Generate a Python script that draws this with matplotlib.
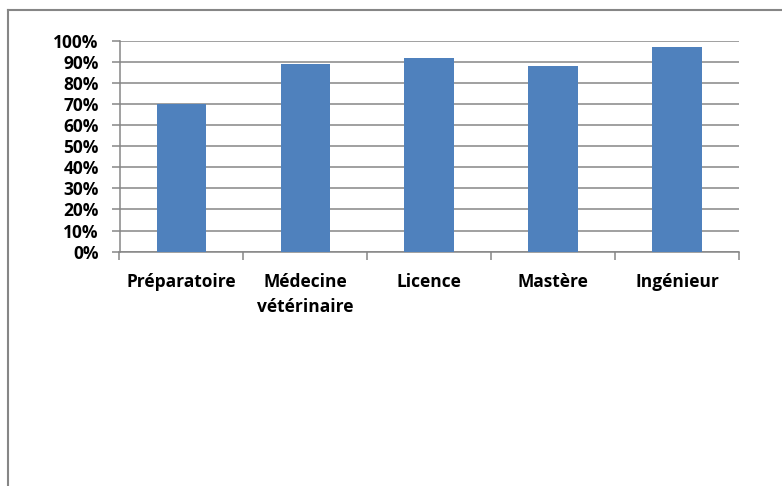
import numpy as np
import matplotlib
matplotlib.use("Agg")
import matplotlib.pyplot as plt
from matplotlib.ticker import MultipleLocator, PercentFormatter, FixedLocator, NullFormatter

W, H = 782, 486

categories = ["Préparatoire", "Médecine\nvétérinaire", "Licence", "Mastère", "Ingénieur"]
values = [70, 89, 92, 88, 97]

BLUE = "#4F81BD"
GRID = "#868686"

plt.rcParams["font.family"] = ["Open Sans", "DejaVu Sans"]
plt.rcParams["font.weight"] = "bold"

fig = plt.figure(figsize=(W / 100, H / 100), dpi=100)
ax = fig.add_axes([119.5 / W, 1 - 251.7 / H, (739 - 119.5) / W, (251.7 - 40.7) / H])

x = np.arange(len(categories))
ax.bar(x, values, width=0.4, color=BLUE, zorder=3)

ax.set_xlim(-0.5, len(categories) - 0.5)
ax.set_ylim(0, 100)
ax.yaxis.set_major_locator(MultipleLocator(10))
ax.yaxis.set_major_formatter(PercentFormatter(decimals=0))
ax.grid(axis="y", color=GRID, lw=1.1, zorder=0)

# category labels centred, tick marks on category boundaries
ax.set_xticks(x)
ax.set_xticklabels(categories, fontsize=12.5, fontweight="bold", linespacing=1.5, va="top")
ax.tick_params(axis="x", length=0, pad=15.5)
ax.xaxis.set_minor_locator(FixedLocator(np.arange(-0.5, len(categories), 1.0)))
ax.xaxis.set_minor_formatter(NullFormatter())
ax.tick_params(axis="x", which="minor", length=6, color=GRID, width=1.1)
ax.tick_params(axis="y", length=6, color=GRID, width=1.1, labelsize=12.5, pad=9)
for lab in ax.get_yticklabels():
    lab.set_fontweight("bold")

for s in ["top", "right"]:
    ax.spines[s].set_visible(False)
for s in ["left", "bottom"]:
    ax.spines[s].set_color(GRID)
    ax.spines[s].set_linewidth(1.1)

# outer chart frame (runs off right/bottom edges)
fig.add_artist(plt.Line2D([8 / W, 8 / W], [0, 1 - 10 / H], color=GRID, lw=1.5))
fig.add_artist(plt.Line2D([8 / W, 1], [1 - 10 / H, 1 - 10 / H], color=GRID, lw=1.5))

fig.savefig("out.png", dpi=100)
